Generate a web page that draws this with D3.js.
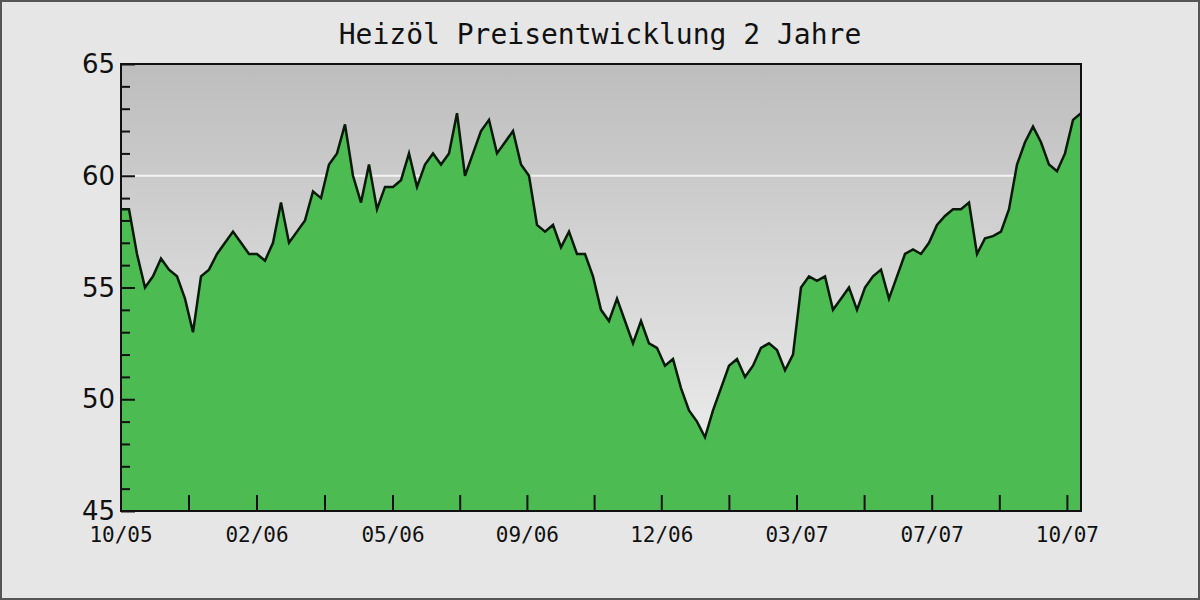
<html>
<head>
<script src="https://cdn.jsdelivr.net/npm/d3@7"></script>
<style>
  body { margin: 0; background: #fff; }
</style>
</head>
<body>
<script>
// Heizöl price, sampled roughly every 8px across the plot (index = sample)
const prices = [
  58.5, 58.5, 56.5, 55, 55.5, 56.3, 55.8, 55.5, 54.5, 53, 55.5, 55.8, 56.5, 57, 57.5, 57,
  56.5, 56.5, 56.2, 57, 58.8, 57, 57.5, 58, 59.3, 59, 60.5, 61, 62.3, 60, 58.8, 60.5,
  58.5, 59.5, 59.5, 59.8, 61, 59.5, 60.5, 61, 60.5, 61, 62.8, 60, 61, 62, 62.5, 61,
  61.5, 62, 60.5, 60, 57.8, 57.5, 57.8, 56.8, 57.5, 56.5, 56.5, 55.5, 54, 53.5, 54.5, 53.5,
  52.5, 53.5, 52.5, 52.3, 51.5, 51.8, 50.5, 49.5, 49, 48.3, 49.5, 50.5, 51.5, 51.8, 51, 51.5,
  52.3, 52.5, 52.2, 51.3, 52, 55, 55.5, 55.3, 55.5, 54, 54.5, 55, 54, 55, 55.5, 55.8,
  54.5, 55.5, 56.5, 56.7, 56.5, 57, 57.8, 58.2, 58.5, 58.5, 58.8, 56.5, 57.2, 57.3, 57.5, 58.5,
  60.5, 61.5, 62.2, 61.5, 60.5, 60.2, 61, 62.5, 62.8
];
const xTickLabels = ['10/05', '02/06', '05/06', '09/06', '12/06', '03/07', '07/07', '10/07'];
const xTickPos = [0, 17, 34, 50.8, 67.6, 84.5, 101.4, 118.3]; // sample index of each label
const yTicks = [45, 50, 55, 60, 65];

const W = 1200, H = 600;
const pLeft = 121, pRight = 1081, pTop = 64, pBottom = 511;

const svg = d3.select('body').append('svg').attr('width', W).attr('height', H);

const defs = svg.append('defs');
const grad = defs.append('linearGradient').attr('id', 'bg').attr('x1', 0).attr('y1', 0).attr('x2', 0).attr('y2', 1);
grad.append('stop').attr('offset', '0%').attr('stop-color', '#bdbdbd');
grad.append('stop').attr('offset', '100%').attr('stop-color', '#f2f2f2');

svg.append('rect').attr('x', 1).attr('y', 1).attr('width', W - 2).attr('height', H - 2)
  .attr('fill', '#e6e6e6').attr('stroke', '#555').attr('stroke-width', 2);

const x = d3.scaleLinear().domain([0, prices.length - 1]).range([pLeft, pRight]);
const y = d3.scaleLinear().domain([45, 65]).range([pBottom, pTop]);

svg.append('rect').attr('x', pLeft).attr('y', pTop).attr('width', pRight - pLeft).attr('height', pBottom - pTop)
  .attr('fill', 'url(#bg)');

svg.append('line').attr('x1', pLeft).attr('x2', pRight).attr('y1', y(60)).attr('y2', y(60))
  .attr('stroke', '#f4f4f4').attr('stroke-width', 2);

const area = d3.area().x((d, i) => x(i)).y0(y(45)).y1(d => y(d));
const line = d3.line().x((d, i) => x(i)).y(d => y(d));

svg.append('path').datum(prices).attr('d', area).attr('fill', '#4cbb52');
svg.append('path').datum(prices).attr('d', line).attr('fill', 'none')
  .attr('stroke', '#0a1a0a').attr('stroke-width', 2.5);

// frame
svg.append('rect').attr('x', pLeft).attr('y', pTop).attr('width', pRight - pLeft).attr('height', pBottom - pTop)
  .attr('fill', 'none').attr('stroke', '#111').attr('stroke-width', 2);

// y axis: ticks pointing inward
const yAxis = d3.axisRight(y).tickValues(d3.range(45, 65.01, 1)).tickSize(0).tickFormat('');
const yg = svg.append('g').attr('transform', `translate(${pLeft},0)`).call(yAxis);
yg.select('.domain').remove();
yg.selectAll('.tick line').attr('x2', d => d % 5 === 0 ? 14 : 9).attr('stroke', '#111').attr('stroke-width', 2);

svg.selectAll('.ylab').data(yTicks).enter().append('text')
  .attr('x', pLeft - 6).attr('y', d => y(d) + 9)
  .attr('text-anchor', 'end').attr('font-family', 'DejaVu Sans').attr('font-size', 26).attr('fill', '#111')
  .text(d => d);

// x axis ticks pointing upward
const mids = xTickPos.slice(0, -1).map((p, i) => (p + xTickPos[i + 1]) / 2);
svg.selectAll('.xt').data(xTickPos.concat(mids)).enter().append('line')
  .attr('x1', d => x(d)).attr('x2', d => x(d)).attr('y1', pBottom).attr('y2', pBottom - 16)
  .attr('stroke', '#111').attr('stroke-width', 2);

svg.selectAll('.xlab').data(xTickLabels).enter().append('text')
  .attr('x', (d, i) => x(xTickPos[i])).attr('y', pBottom + 31)
  .attr('text-anchor', 'middle').attr('font-family', 'DejaVu Sans Mono').attr('font-size', 21).attr('fill', '#111')
  .text(d => d);

svg.append('text').attr('x', 600).attr('y', 44).attr('text-anchor', 'middle')
  .attr('font-family', 'DejaVu Sans Mono').attr('font-size', 28).attr('fill', '#111')
  .text('Heizöl Preisentwicklung 2 Jahre');
</script>
</body>
</html>
